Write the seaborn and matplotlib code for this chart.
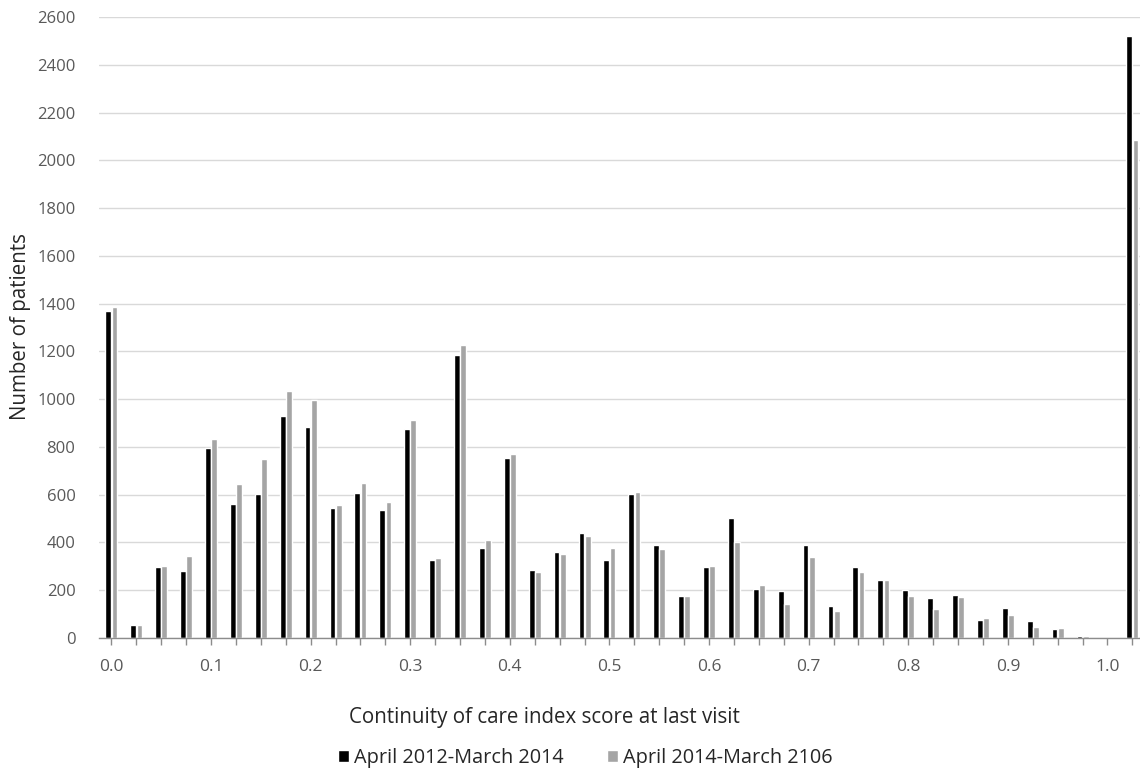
import numpy as np
import pandas as pd
import matplotlib
matplotlib.use('Agg')
import matplotlib.pyplot as plt
import seaborn as sns
sns.set_style('white')
plt.rcParams['font.family'] = ['Open Sans', 'DejaVu Sans']

# data (42 category bins)
periods = ['April 2012-March 2014', 'April 2014-March 2106']
first_period = [1369, 53, 297, 279, 794, 562, 601, 931, 884, 543, 606, 534,
                877, 327, 1186, 378, 754, 286, 362, 439, 327, 603, 388, 176,
                299, 503, 206, 197, 388, 132, 297, 244, 199, 167, 178, 77,
                127, 71, 37, 10, 0, 2520]
second_period = [1385, 53, 300, 344, 833, 645, 750, 1035, 996, 557, 650, 569,
                 914, 336, 1225, 411, 772, 278, 353, 429, 378, 613, 373, 176,
                 300, 401, 220, 142, 341, 111, 276, 241, 176, 121, 172, 84,
                 98, 47, 40, 7, 0, 2084]
bins = ['bin%02d' % i for i in range(len(first_period))]
tick_labels = ['0.0', '', '', '', '0.1', '', '', '', '0.2', '', '', '',
               '0.3', '', '', '', '0.4', '', '', '', '0.5', '', '', '',
               '0.6', '', '', '', '0.7', '', '', '', '0.8', '', '', '',
               '0.9', '', '', '', '1.0', '']

df = pd.DataFrame({'bin': bins * 2,
                   'patients': first_period + second_period,
                   'period': [periods[0]] * len(bins) + [periods[1]] * len(bins)})

W, H = 1140, 774
fig = plt.figure(figsize=(W / 100, H / 100), dpi=100)
# plot area: left edge at 99px, zero line at 638px, 2600 at 17px
ax = fig.add_axes([99 / W, 1 - 638 / H, (W - 99) / W, 621 / H])

sns.barplot(data=df, x='bin', y='patients', hue='period', order=bins,
            hue_order=periods, palette=['#000000', '#A5A5A5'],
            width=0.5, gap=0.08, ax=ax)

ax.set_ylim(0, 2600)
ax.set_yticks(np.arange(0, 2601, 200))
ax.set_xlim(-0.5, -0.5 + (W - 99) / 24.9)
ax.set_xticks(range(len(bins)))
ax.set_xticklabels(tick_labels)

ax.grid(axis='y', color='#D9D9D9', linewidth=1)
ax.set_axisbelow(True)
for side in ['top', 'right', 'left']:
    ax.spines[side].set_visible(False)
ax.spines['bottom'].set_color('#8C8C8C')
ax.spines['bottom'].set_linewidth(1)
ax.tick_params(axis='x', length=5, width=1, color='#8C8C8C', direction='out',
               labelsize=12.5, labelcolor='#595959', pad=10, bottom=True)
ax.tick_params(axis='y', length=0, labelsize=12, labelcolor='#595959', pad=17)

ax.set_xlabel('Continuity of care index score at last visit', fontsize=14.8)
ax.xaxis.set_label_coords((544 - 99) / (W - 99), (638 - 717) / 621)
ax.xaxis.label.set_va('center')
ax.set_ylabel('Number of patients', fontsize=14.8)
ax.yaxis.set_label_coords((20 - 99) / (W - 99), (638 - 327) / 621)
ax.yaxis.label.set_va('center')

handles, labels = ax.get_legend_handles_labels()
ax.get_legend().remove()
fig.legend(handles, labels, loc='center', bbox_to_anchor=(585 / W, 1 - 758 / H),
           ncol=2, frameon=False, fontsize=14.3, handlelength=0.55,
           handleheight=0.55, handletextpad=0.25, columnspacing=2.2)

fig.savefig('out.png', dpi=100)
